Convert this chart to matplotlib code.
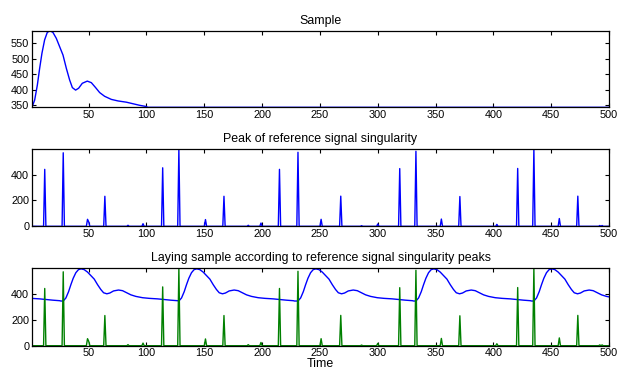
import numpy as np
import matplotlib
matplotlib.use('Agg')
import matplotlib.pyplot as plt

plt.rcParams['font.family'] = ['Liberation Sans', 'DejaVu Sans']
plt.rcParams['font.size'] = 7.5

# one beat of the sample signal
sample_x = [1, 3.3, 5.6, 7.6, 9.6, 11.9, 14.2, 16.5, 19.1, 22, 24.9, 27.8, 30.7, 33.5,
            35.9, 38.7, 41.3, 44.5, 48.8, 52.3, 56, 59.5, 63.8, 69.6, 75.4, 82.6,
            88.3, 94, 99.9, 101, 500]
sample_y = [343.5, 367, 415, 469, 518, 561, 585, 590.6, 585, 566, 539, 512, 469, 432,
            407, 399, 405, 421, 428, 423, 407, 391, 379, 369, 364, 360,
            355, 350, 346, 343.5, 343.5]

# singularity peaks of the reference signal
peak_x = [12, 28, 49, 50, 64, 84, 97, 114, 128, 151, 167, 188, 199, 215, 231, 251,
          268, 286, 300, 319, 333, 355, 371, 403, 421, 435, 457, 473, 492, 494]
peak_h = [440, 568, 54, 35, 232, 8, 20, 452, 595, 52, 232, 8, 25, 440, 572, 54,
          233, 5, 18, 446, 580, 56, 230, 15, 447, 595, 60, 233, 6, 6]

# beat starts used to lay the sample (first one is the tail of a previous beat)
beat_starts = [-74, 28, 128, 231, 333, 435]

n = np.arange(1, 501)
peaks = np.zeros(500)
for px, ph in zip(peak_x, peak_h):
    peaks[px - 1] = ph

sx = np.array(sample_x[:-1])
sy = np.array(sample_y[:-1])
laid_x = np.concatenate([s - 1 + sx for s in beat_starts])
laid_y = np.concatenate([sy for s in beat_starts])

fig = plt.figure(figsize=(6.18, 3.69), dpi=100)
W = 0.9337
L = 0.0518
ax1 = fig.add_axes([L, 0.7092, W, 0.2076])
ax2 = fig.add_axes([L, 0.3867, W, 0.2087])
ax3 = fig.add_axes([L, 0.0631, W, 0.2098])

TS = 8.9

ax1.plot(sample_x, sample_y, color=(0, 0, 1), lw=1)
ax1.set_ylim(343.5, 590.6)
ax1.set_yticks([350, 400, 450, 500, 550])
ax1.set_title('Sample', fontsize=TS, pad=5)

ax2.plot(n, peaks, color=(0, 0, 1), lw=1)
ax2.set_ylim(0, 595)
ax2.set_yticks([0, 200, 400])
ax2.set_title('Peak of reference signal singularity', fontsize=TS, pad=5)

ax3.plot(laid_x, laid_y, color=(0, 0, 1), lw=1)
ax3.plot(n, peaks, color=(0, 0.5, 0), lw=1)
ax3.set_ylim(0, 595)
ax3.set_yticks([0, 200, 400])
ax3.set_title('Laying sample according to reference signal singularity peaks',
              fontsize=TS, pad=5)
ax3.set_xlabel('Time', fontsize=TS, labelpad=0)

for ax in (ax1, ax2, ax3):
    ax.set_xlim(1, 500)
    ax.set_xticks(np.arange(50, 501, 50))
    ax.tick_params(direction='in', top=True, right=True, length=3, width=0.8,
                   pad=2, labelsize=7.8)
    for sp in ax.spines.values():
        sp.set_linewidth(0.9)

fig.savefig('out.png', dpi=100)
